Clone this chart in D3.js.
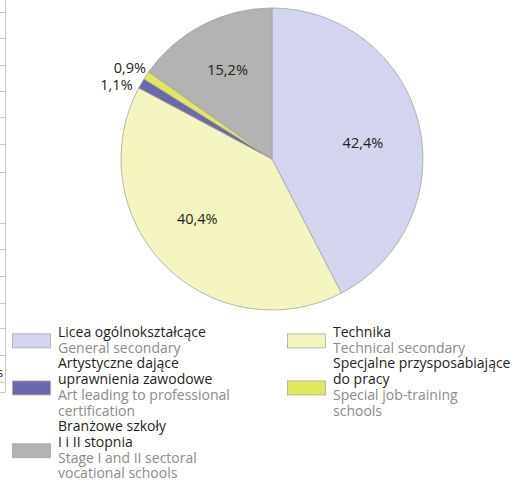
<!DOCTYPE html>
<html>
<head>
<meta charset="utf-8">
<script src="https://cdn.jsdelivr.net/npm/d3@7"></script>
<style>
  body { margin: 0; background: #fff; }
  svg { display: block; font-family: "Open Sans", sans-serif; }
</style>
</head>
<body>
<div id="chart"></div>
<script>
// slices, clockwise from 12 o'clock
var categories = ['Licea ogólnokształcące', 'Technika', 'Artystyczne dające uprawnienia zawodowe',
    'Specjalne przysposabiające do pracy', 'Branżowe szkoły I i II stopnia'];
var shares = [42.4, 40.4, 1.1, 0.9, 15.2];
var shareLabels = ['42,4%', '40,4%', '1,1%', '0,9%', '15,2%'];
var colors = ['#d3d5ee', '#f5f6bf', '#6b69ab', '#e1e95a', '#b1b2b1'];

// legend text, already wrapped as in the print
var legendPolish = [
    ['Licea ogólnokształcące'],
    ['Technika'],
    ['Artystyczne dające', 'uprawnienia zawodowe'],
    ['Specjalne przysposabiające', 'do pracy'],
    ['Branżowe szkoły', 'I i II stopnia']
];
var legendEnglish = [
    ['General secondary'],
    ['Technical secondary'],
    ['Art leading to professional', 'certification'],
    ['Special job-training', 'schools'],
    ['Stage I and II sectoral', 'vocational schools']
];

// rule lines of the neighbouring table that show at the left edge
var tableRows = [12, 38, 65, 91, 117, 144, 172, 223, 249, 276, 303, 328, 355, 382, 392];

var width = 518, height = 480;
var cx = 272, cy = 159, radius = 151;

var svg = d3.select('#chart').append('svg')
    .attr('width', width)
    .attr('height', height);

// table remnants
var edge = svg.append('g').attr('stroke', '#c8c8c8').attr('stroke-width', 1);
edge.append('line').attr('x1', 5.5).attr('x2', 5.5).attr('y1', 0).attr('y2', 392);
edge.selectAll('.row')
    .data(tableRows)
    .enter().append('line')
    .attr('x1', 0).attr('x2', 5.5)
    .attr('y1', function (d) { return d + 0.5; })
    .attr('y2', function (d) { return d + 0.5; });
svg.append('text')
    .attr('x', -3).attr('y', 377)
    .attr('font-size', 13).attr('fill', '#333')
    .text('s');

// pie
var pie = d3.pie().sort(null).value(function (d) { return d; });
var arcs = pie(shares);
var arc = d3.arc().innerRadius(0).outerRadius(radius);
var labelArc = d3.arc().innerRadius(radius * 0.64).outerRadius(radius * 0.64);

var g = svg.append('g')
    .attr('transform', 'translate(' + cx + ',' + cy + ')');

g.selectAll('.slice')
    .data(arcs)
    .enter().append('path')
    .attr('class', 'slice')
    .attr('d', arc)
    .attr('fill', function (d, i) { return colors[i]; })
    .attr('stroke', '#a4a4a4')
    .attr('stroke-width', 0.8);

// big slices get their label inside, thin ones outside
var outsideNudge = { 2: [0, 6], 3: [8, -2] };
var innerNudge = { 0: [-3, 6], 1: [-6, -8], 4: [0, -4] };

g.selectAll('.val')
    .data(arcs)
    .enter().append('text')
    .attr('class', 'val')
    .attr('font-size', 14.5)
    .attr('fill', '#231f20')
    .attr('dominant-baseline', 'central')
    .attr('text-anchor', function (d) { return d.value < 5 ? 'end' : 'middle'; })
    .attr('transform', function (d) {
        var p, n;
        if (d.value < 5) {
            var a = (d.startAngle + d.endAngle) / 2, r = radius + 10;
            n = outsideNudge[d.index];
            p = [r * Math.sin(a) + n[0], -r * Math.cos(a) + n[1]];
        } else {
            n = innerNudge[d.index];
            p = labelArc.centroid(d);
            p = [p[0] + n[0], p[1] + n[1]];
        }
        return 'translate(' + p[0] + ',' + p[1] + ')';
    })
    .text(function (d) { return shareLabels[d.index]; });

// legend
var colX = [12, 287];
var lineH = 15.7, firstBaseline = 337;
var legend = svg.append('g').attr('font-size', 14);
var startLine = 0;

function drawEntry(i, x, rowTop) {
    var lines = legendPolish[i].map(function (t) { return { t: t, en: false }; })
        .concat(legendEnglish[i].map(function (t) { return { t: t, en: true }; }));
    var mid = rowTop + (lines.length - 1) * lineH / 2 - 4;
    legend.append('rect')
        .attr('x', x + 0.5).attr('y', mid - 7)
        .attr('width', 38).attr('height', 14)
        .attr('fill', colors[i])
        .attr('stroke', '#a8a8a8').attr('stroke-width', 0.8);
    legend.selectAll(null)
        .data(lines)
        .enter().append('text')
        .attr('x', x + 46)
        .attr('y', function (d, k) { return rowTop + k * lineH; })
        .attr('fill', function (d) { return d.en ? '#8b8b8b' : '#231f20'; })
        .text(function (d) { return d.t; });
    return lines.length;
}

for (var row = 0; row * 2 < categories.length; row++) {
    var rowLines = 0;
    for (var c = 0; c < 2; c++) {
        var i = row * 2 + c;
        if (i >= categories.length) break;
        rowLines = Math.max(rowLines, drawEntry(i, colX[c], firstBaseline + startLine * lineH));
    }
    startLine += rowLines;
}
</script>
</body>
</html>
